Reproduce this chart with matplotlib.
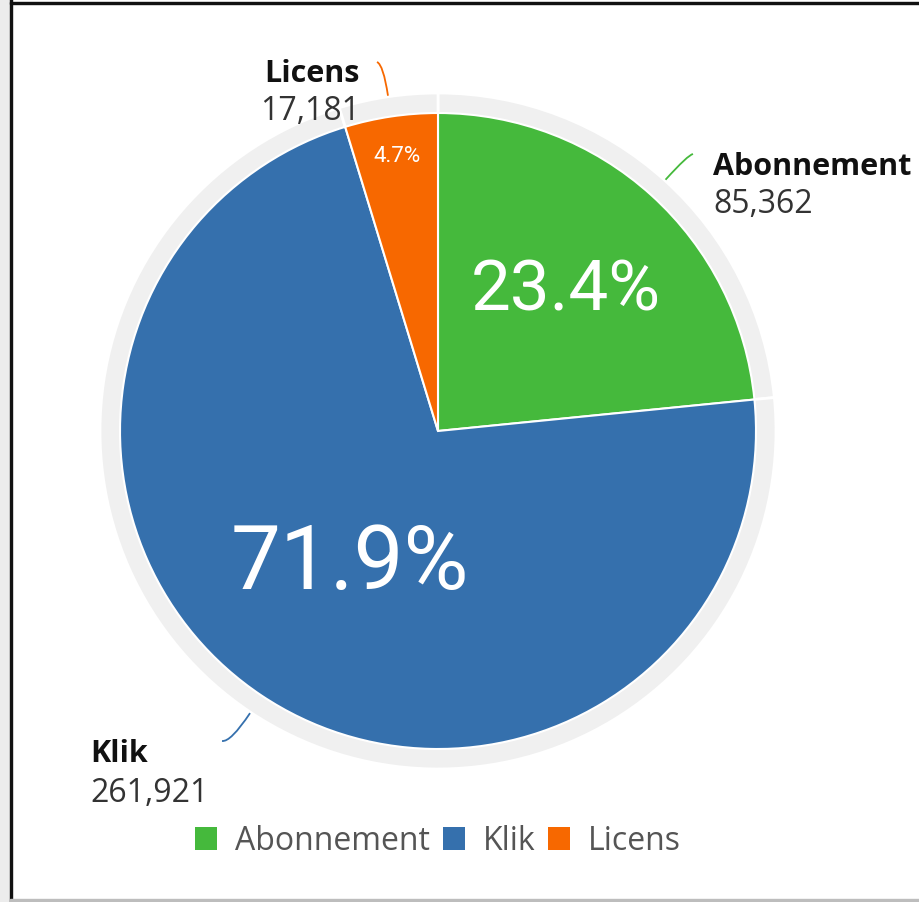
import matplotlib
matplotlib.use("Agg")
import matplotlib.pyplot as plt
import numpy as np
from matplotlib.patches import Rectangle, Patch
from matplotlib.path import Path
from matplotlib.patches import PathPatch

categories = ["Abonnement", "Klik", "Licens"]
values = [85362, 261921, 17181]
value_labels = ["85,362", "261,921", "17,181"]
colors = ["#45b93c", "#3570ad", "#f76800"]

W, H = 920, 903
fig = plt.figure(figsize=(W / 100, H / 100), dpi=100)
ax = fig.add_axes([0, 0, 1, 1])
ax.set_xlim(0, W)
ax.set_ylim(0, H)
ax.set_aspect("equal")
ax.axis("off")

# frame decorations
fig.patches.append(Rectangle((0, 0), 10 / W, 1, transform=fig.transFigure, color="#ececec", zorder=0))
fig.patches.append(Rectangle((10 / W, 0), 2 / W, 1, transform=fig.transFigure, color="#111111", zorder=1))
fig.patches.append(Rectangle((10 / W, 1 - 5 / H), 1, 2.5 / H, transform=fig.transFigure, color="#111111", zorder=1))
fig.patches.append(Rectangle((10 / W, 0), 1, 3 / H, transform=fig.transFigure, color="#bdbdbd", zorder=1))

cx, cy = 438, H - 432
R = 318
RING = 338

# background ring
ax.pie(values, radius=RING, center=(cx, cy), startangle=90, counterclock=False,
       colors=["#f0f0f0"] * 3, wedgeprops=dict(edgecolor="white", linewidth=2))
wedges, _ = ax.pie(values, radius=R, center=(cx, cy), startangle=90, counterclock=False,
                   colors=colors, wedgeprops=dict(edgecolor="white", linewidth=1.5))
ax.set_xlim(0, W)
ax.set_ylim(0, H)

total = sum(values)
fracs = [v / total for v in values]
cum = np.cumsum([0] + fracs)
mids = [90 - 360 * (cum[i] + fracs[i] / 2) for i in range(3)]

pct_dist = [0.60, 0.50, 0.875]
pct_size = [51, 64, 16]
for i in range(3):
    a = np.deg2rad(mids[i])
    x = cx + pct_dist[i] * R * np.cos(a)
    y = cy + pct_dist[i] * R * np.sin(a)
    ax.text(x, y, f"{fracs[i]*100:.1f}%", color="white", fontsize=pct_size[i],
            family="Roboto", fontweight="normal", ha="center", va="center")

# outside labels with curved leaders
label_font = "Open Sans"
# (name baseline y, value baseline y, text x, align) in pixel coordinates
lab_pos = [(175, 213, 713, "left"), (762, 802, 90, "left"), (82, 120, 360, "right")]
leader_end = [(693, 155), (222, 742), (377, 63)]
for i in range(3):
    a = np.deg2rad(mids[i])
    p0 = (cx + (RING + 1) * np.cos(a), cy + (RING + 1) * np.sin(a))
    ex, ey = leader_end[i][0], H - leader_end[i][1]
    rr = np.hypot(ex - cx, ey - cy)
    p1 = (cx + rr * 0.99 * np.cos(a), cy + rr * 0.99 * np.sin(a))
    path = Path([p0, p1, (ex, ey)], [Path.MOVETO, Path.CURVE3, Path.CURVE3])
    ax.add_patch(PathPatch(path, fill=False, edgecolor=colors[i], linewidth=1.3))
    ny, vy, tx, al = lab_pos[i]
    ax.text(tx, H - ny, categories[i], fontsize=22, fontweight="bold", family=label_font,
            color="#111111", ha=al, va="baseline")
    ax.text(tx, H - vy, value_labels[i], fontsize=23, family=label_font,
            color="#333333", ha=al, va="baseline")

handles = [Patch(facecolor=c, edgecolor="none") for c in colors]
leg = ax.legend(handles, categories, loc="center", bbox_to_anchor=(438 / W, 1 - 842 / H),
                ncol=3, frameon=False, handlelength=0.7, handleheight=0.7,
                handletextpad=0.55, columnspacing=0.4, prop=dict(family=label_font, size=23))
for t in leg.get_texts():
    t.set_color("#555555")

fig.savefig("out.png", dpi=100)
